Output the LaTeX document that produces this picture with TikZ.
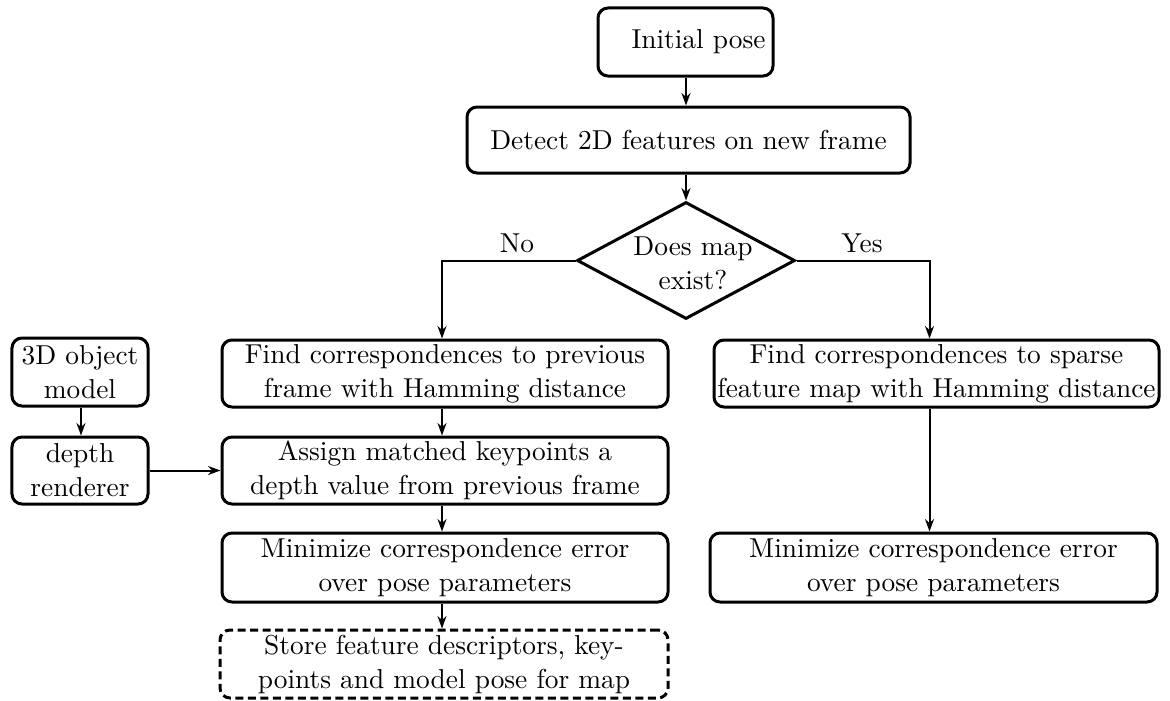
\documentclass[tikz,border=0pt]{standalone}
\usetikzlibrary{shapes.geometric,arrows.meta}
\begin{document}
\begin{tikzpicture}[x=0.4pt,y=-0.4pt,
 font=\fontsize{10.95pt}{13.6pt}\selectfont,
 box/.style={draw, rounded corners=4pt, line width=1.2pt, align=center, inner sep=0pt},
 dbox/.style={box, dash pattern=on 3.2pt off 1.8pt},
 decision/.style={draw, diamond, line width=1.2pt, inner sep=0pt, minimum width=87.2pt, minimum height=46.8pt},
 arr/.style={-{Stealth[length=5pt,width=3.6pt]}, line width=0.8pt},
 lbl/.style={inner sep=0pt}]
\useasboundingbox (0,0) rectangle (1170,700);

\coordinate (colL) at (442,0);
\coordinate (colM) at (686,0);
\coordinate (colR) at (929.5,0);
\coordinate (colS) at (81,0);

\node[box, minimum width=70pt, minimum height=27.2pt, text width=64pt, align=right] (init) at (685.5,42) {Initial pose};
\node[box, minimum width=177.2pt, minimum height=26.4pt] (detect) at (688.5,140) {Detect 2D features on new frame};
\node[decision] (dec) at (686,260.5) {\makebox[0pt]{\raisebox{-4.8pt}[0pt][0pt]{\hspace*{5.6pt}\begin{tabular}{@{}c@{}}Does map\\exist?\end{tabular}}}};

\node[box, minimum width=178.4pt, minimum height=26.8pt] (findprev) at (445,373.5) {Find correspondences to previous\\frame with Hamming distance};
\node[box, minimum width=178pt, minimum height=26.8pt] (findsparse) at (936.5,373.5) {Find correspondences to sparse\\feature map with Hamming distance};
\node[box, minimum width=54.4pt, minimum height=27.2pt] (model3d) at (80,372) {3D object\\model};
\node[box, minimum width=54.4pt, minimum height=26.8pt] (renderer) at (80,470.5) {depth\\renderer};
\node[box, minimum width=178.4pt, minimum height=26.8pt] (assign) at (445,470.5) {Assign matched keypoints a\\depth value from previous frame};
\node[box, minimum width=178.4pt, minimum height=27.6pt] (minleft) at (445,567.5) {Minimize correspondence error\\over pose parameters};
\node[box, minimum width=178.8pt, minimum height=27.6pt] (minright) at (933.5,567.5) {Minimize correspondence error\\over pose parameters};
\node[dbox, minimum width=179.2pt, minimum height=27.2pt] (store) at (444,664) {Store feature descriptors, key-\\points and model pose for map};

\node[lbl] (no) at (517,243) {No};
\node[lbl] (yes) at (862,243) {Yes};

\draw[arr] (init.south -| colM) -- (detect.north -| colM);
\draw[arr] (detect.south -| colM) -- (dec.north);
\draw[arr] (dec.west) -| (findprev.north -| colL);
\draw[arr] (dec.east) -| (findsparse.north -| colR);
\draw[arr] (findprev.south -| colL) -- (assign.north -| colL);
\draw[arr] (assign.south -| colL) -- (minleft.north -| colL);
\draw[arr] (minleft.south -| colL) -- (store.north -| colL);
\draw[arr] (model3d.south -| colS) -- (renderer.north -| colS);
\draw[arr] (renderer.east) -- (assign.west);
\draw[arr] (findsparse.south -| colR) -- (minright.north -| colR);
\end{tikzpicture}
\end{document}
